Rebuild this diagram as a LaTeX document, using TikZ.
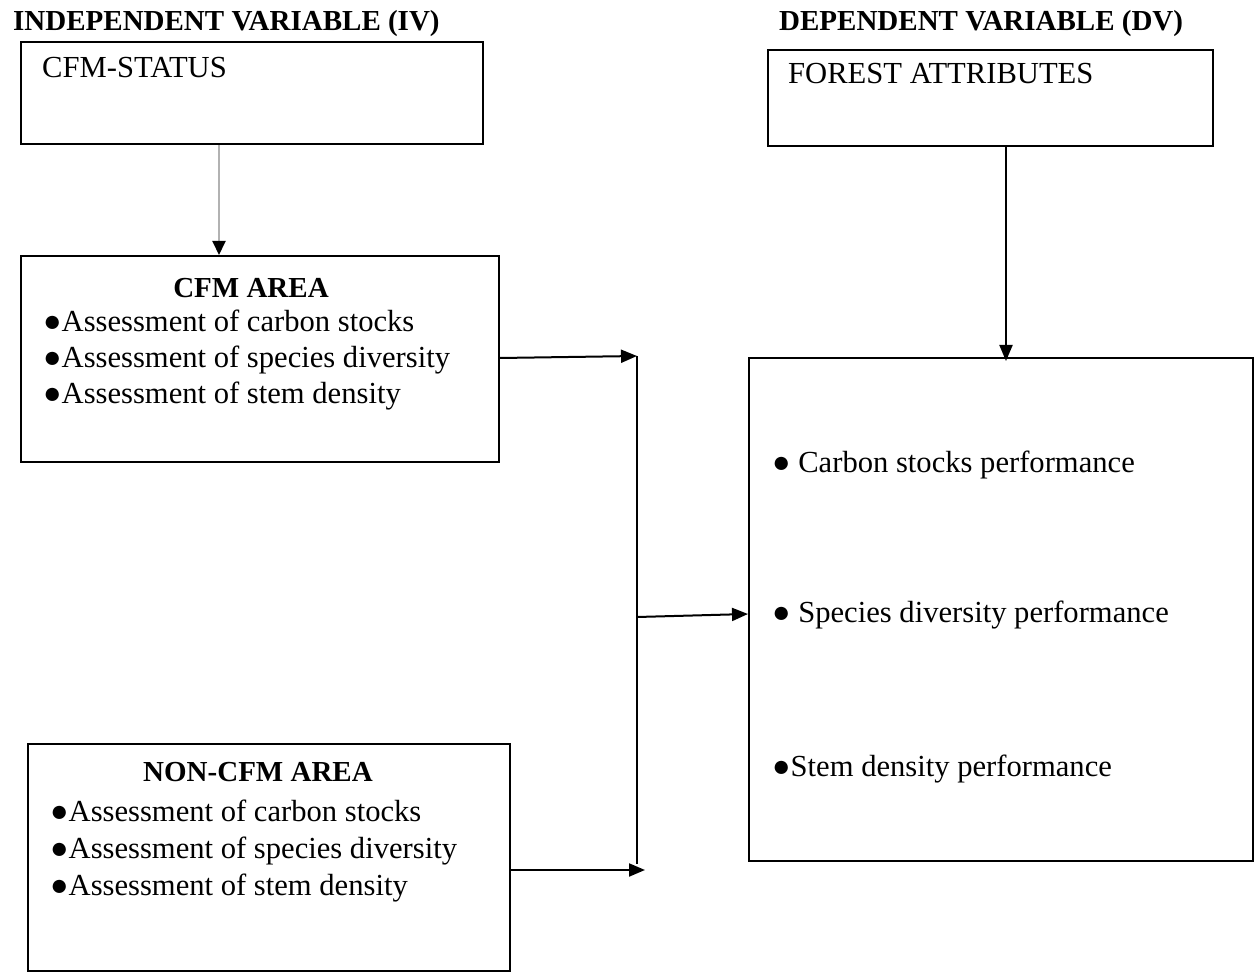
\documentclass[tikz,border=0pt]{standalone}
\usepackage{fontspec}
\setmainfont{Liberation Serif}
\usetikzlibrary{arrows.meta,calc}
\begin{document}
\begin{tikzpicture}[x=1pt,y=-1pt,
  box/.style={draw, line width=2.2pt, inner sep=0pt, anchor=north west},
  txt/.style={inner sep=0pt, anchor=base west, font=\fontsize{30.6}{36}\selectfont},
  head/.style={inner sep=0pt, anchor=base west, font=\fontsize{29}{34}\selectfont\bfseries},
  ttl/.style={inner sep=0pt, anchor=base, font=\fontsize{29}{34}\selectfont\bfseries},
  conn/.style={line width=2pt, -{Triangle[length=16pt,width=13pt]}},
  ]
\useasboundingbox (0,0) rectangle (1254,973);
% headers
\node[head] (hiv) at (13,31) {INDEPENDENT VARIABLE (IV)};
\node[head] (hdv) at (779,31) {DEPENDENT VARIABLE (DV)};
% boxes
\node[box, minimum width=462pt, minimum height=102pt] (status) at (20,41) {};
\node[box, minimum width=478pt, minimum height=206pt] (cfm) at (20,255) {};
\node[box, minimum width=482pt, minimum height=227pt] (noncfm) at (27,743) {};
\node[box, minimum width=445pt, minimum height=96pt] (forest) at (767,49) {};
\node[box, minimum width=504pt, minimum height=503pt] (dv) at (748,357) {};
% texts
\node[txt] (statusT) at (42,78) {CFM-STATUS};
\node[txt] (forestT) at (788,84) {FOREST ATTRIBUTES};
\node[ttl] (cfmT) at (251,298) {CFM AREA};
\node[txt] (cfm1) at (43,332) {●Assessment of carbon stocks};
\node[txt] (cfm2) at (43,368) {●Assessment of species diversity};
\node[txt] (cfm3) at (43,404) {●Assessment of stem density};
\node[ttl] (nonT) at (258,781) {NON-CFM AREA};
\node[txt] (non1) at (50,821) {●Assessment of carbon stocks};
\node[txt] (non2) at (50,858) {●Assessment of species diversity};
\node[txt] (non3) at (50,895) {●Assessment of stem density};
\node[txt] (dv1) at (772,473) {● Carbon stocks performance};
\node[txt] (dv2) at (772,622) {● Species diversity performance};
\node[txt] (dv3) at (772,776) {●Stem density performance};
% connector points
\coordinate (j1) at (637,356);
\coordinate (j2) at (637,617);
\coordinate (j3) at (637,864);
\coordinate (j4) at (645,870);
% connectors
\draw[line width=2pt, gray!60, -{Triangle[length=14pt,width=13pt,color=black]}]
  ($(status.south west)+(199,0)$) -- ($(cfm.north west)+(199,0)$);
\draw[conn] ($(cfm.north east)+(0,103)$) -- (j1);
\draw[line width=2pt] (j1) -- (j3);
\draw[conn] ($(noncfm.north east)+(0,127)$) -- (j4);
\draw[conn] (j2) -- ($(dv.north west)+(0,257)$);
\draw[conn] ($(forest.south west)+(239,0)$) -- ($(dv.north west)+(258,4)$);
\end{tikzpicture}
\end{document}
